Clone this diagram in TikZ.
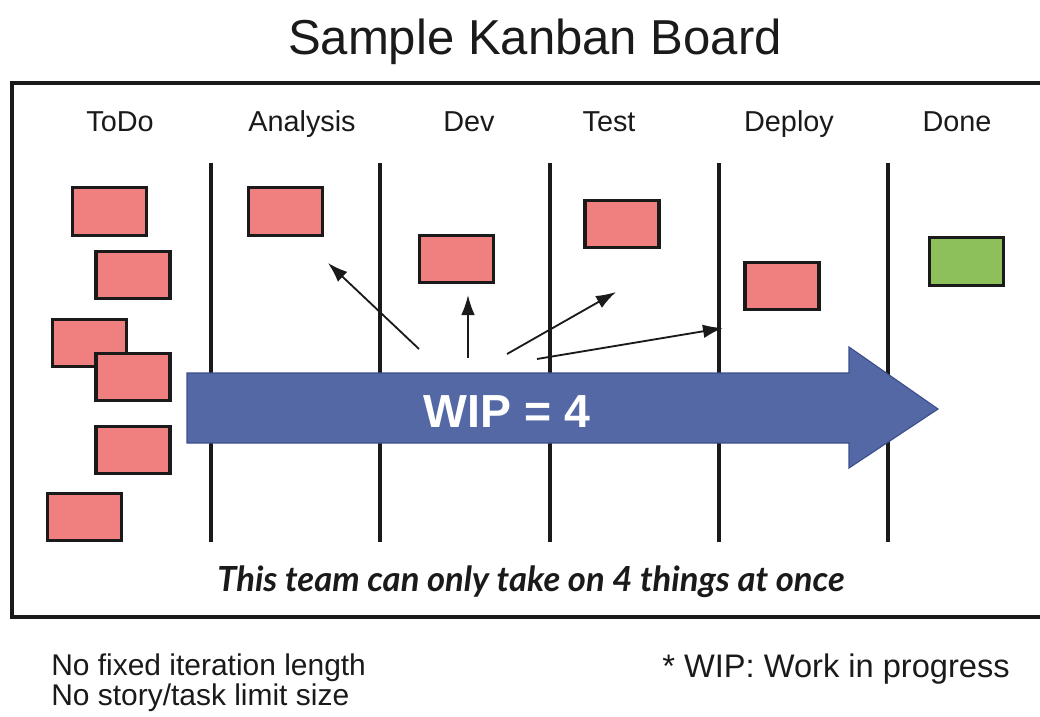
\documentclass[tikz,border=0pt]{standalone}
\usepackage{fontspec}
\setmainfont{Liberation Sans}
\newfontfamily\handfont{Lato}
\usetikzlibrary{arrows.meta}
\definecolor{ink}{HTML}{1A1A1A}
\definecolor{cardred}{HTML}{F08080}
\definecolor{cardgreen}{HTML}{8DC05A}
\definecolor{wipblue}{HTML}{5468A6}
\definecolor{wipedge}{HTML}{3C4F8C}

\begin{document}
\begin{tikzpicture}[x=0.025cm,y=-0.025cm,
  card/.style={draw=ink,line width=2.2pt,fill=cardred,minimum width=1.85cm,
    minimum height=1.18cm,inner sep=0pt},
  donecard/.style={card,fill=cardgreen},
  colhead/.style={anchor=base,font=\fontsize{20.5}{24}\selectfont,text=ink},
  divider/.style={line width=2.5pt,draw=ink},
  pull/.style={-{Latex[length=5mm,width=3.4mm]},line width=1.3pt,draw=ink},
  note/.style={anchor=base west,inner sep=0pt,font=\fontsize{21.3}{26}\selectfont,text=ink}
]
\useasboundingbox (0,0) rectangle (1040,717);
\node[anchor=base,font=\fontsize{34.9}{40}\selectfont,text=ink] (title) at (535,54) {Sample Kanban Board};
% board frame (right side runs off the page)
\draw[line width=2.6pt,draw=ink] (1040,83) -- (12,83) -- (12,617) -- (1040,617);
% column headers
\node[colhead] (todo) at (120,131) {ToDo};
\node[colhead] (analysis) at (302,131) {Analysis};
\node[colhead] (dev) at (469,131) {Dev};
\node[colhead] (test) at (609,131) {Test};
\node[colhead] (deploy) at (789,131) {Deploy};
\node[colhead] (done) at (957,131) {Done};
\foreach \x in {211,380,550,719,888}
  \draw[divider] (\x,163) -- (\x,542);
% cards
\node[card] (todoA) at (109.5,211.5) {};
\node[card] (todoB) at (133,275) {};
\node[card] (todoC) at (89.5,343) {};
\node[card] (todoD) at (133,377) {};
\node[card] (todoE) at (133,450) {};
\node[card] (todoF) at (84.5,517) {};
\node[card] (analysisA) at (285.5,211.5) {};
\node[card] (devA) at (456.5,259) {};
\node[card] (testA) at (622,224) {};
\node[card] (deployA) at (782,286) {};
\node[donecard] (doneA) at (966.5,261.5) {};
% WIP arrow
\draw[fill=wipblue,draw=wipedge,line width=0.8pt] (187,373) -- (849,373) -- (849,347)
  -- (938,409) -- (849,468) -- (849,443) -- (187,443) -- cycle;
\node[anchor=base,font=\fontsize{33}{38}\selectfont\bfseries,text=white] (wip) at (507,427) {WIP = 4};
% pull arrows
\coordinate (pullA) at (419,349);
\coordinate (tipA) at (328,263);
\coordinate (pullB) at (468,358);
\coordinate (tipB) at (468,295);
\coordinate (pullC) at (507,354);
\coordinate (tipC) at (616,292);
\coordinate (pullD) at (537,359);
\coordinate (tipD) at (723,328);
\draw[pull] (pullA) -- (tipA);
\draw[pull] (pullB) -- (tipB);
\draw[pull] (pullC) -- (tipC);
\draw[pull] (pullD) -- (tipD);
\node[anchor=base,font=\handfont\bfseries\itshape\fontsize{24.6}{28}\selectfont,text=ink] (limit) at (531,591)
  {This team can only take on 4 things at once};
% notes below the board
\node[note] (noteA) at (51,675) {No fixed iteration length};
\node[note] (noteB) at (51,705) {No story/task limit size};
\node[note,font=\fontsize{23.2}{28}\selectfont] (noteC) at (662,677) {* WIP: Work in progress};
\end{tikzpicture}
\end{document}
